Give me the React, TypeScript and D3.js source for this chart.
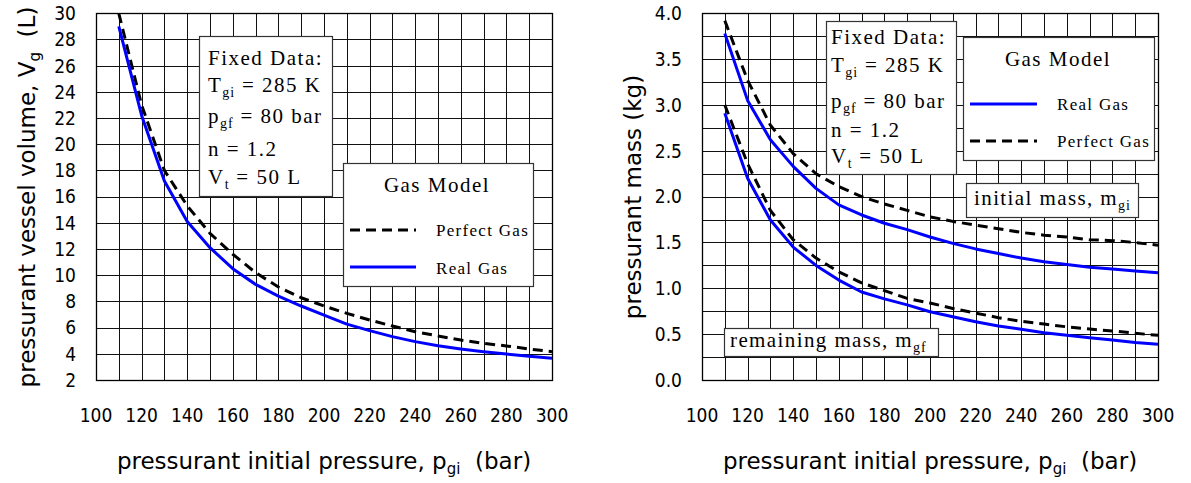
import React from "react";
import * as d3 from "d3";

// ---------- data ----------
const pressure = [110, 120, 130, 140, 150, 160, 170, 180, 190, 200, 210, 220, 230, 240, 250, 260, 270, 280, 290, 300];
const volumeReal = [29.0, 22.2, 17.2, 14.1, 12.1, 10.5, 9.3, 8.4, 7.65, 6.96, 6.27, 5.77, 5.31, 4.93, 4.62, 4.37, 4.16, 3.98, 3.81, 3.66];
const volumePerfect = [30.0, 23.0, 18.0, 15.3, 13.2, 11.6, 10.2, 9.1, 8.28, 7.65, 7.09, 6.58, 6.12, 5.69, 5.36, 5.05, 4.8, 4.6, 4.37, 4.16];
const massInitialReal = [3.78, 3.05, 2.62, 2.33, 2.09, 1.91, 1.8, 1.71, 1.64, 1.56, 1.49, 1.43, 1.38, 1.33, 1.29, 1.26, 1.23, 1.21, 1.19, 1.17];
const massInitialPerfect = [3.92, 3.27, 2.78, 2.47, 2.25, 2.11, 2.0, 1.92, 1.85, 1.78, 1.73, 1.69, 1.65, 1.61, 1.58, 1.56, 1.53, 1.52, 1.5, 1.47];
const massFinalReal = [2.91, 2.2, 1.745, 1.45, 1.25, 1.09, 0.96, 0.885, 0.82, 0.745, 0.69, 0.636, 0.59, 0.553, 0.516, 0.487, 0.462, 0.436, 0.41, 0.39];
const massFinalPerfect = [3.0, 2.36, 1.85, 1.53, 1.33, 1.18, 1.06, 0.975, 0.89, 0.84, 0.78, 0.73, 0.68, 0.64, 0.61, 0.58, 0.556, 0.535, 0.51, 0.487];

const xTicks = [100, 120, 140, 160, 180, 200, 220, 240, 260, 280, 300];
const xGrid = [100, 110, 120, 130, 140, 150, 160, 170, 180, 190, 200, 210, 220, 230, 240, 250, 260, 270, 280, 290, 300];
const volTicks = [2, 4, 6, 8, 10, 12, 14, 16, 18, 20, 22, 24, 26, 28, 30];
const massTicks = [0, 0.5, 1.0, 1.5, 2.0, 2.5, 3.0, 3.5, 4.0];
const massGrid = [0, 0.25, 0.5, 0.75, 1.0, 1.25, 1.5, 1.75, 2.0, 2.25, 2.5, 2.75, 3.0, 3.25, 3.5, 3.75, 4.0];

const BLUE = "#0000ff";
const DASH = "10,6";
const TICK_FONT = "'DejaVu Sans Condensed', 'DejaVu Sans', sans-serif";
const TITLE_FONT = "'DejaVu Sans', Verdana, sans-serif";
const SERIF = "'Liberation Serif', 'Times New Roman', serif";

const crisp = (v: number) => Math.round(v) + 0.5;

type Panel = {
  x: d3.ScaleLinear<number, number>;
  y: d3.ScaleLinear<number, number>;
};

function Grid({ x, y, yGrid }: Panel & { yGrid: number[] }) {
  const [x0, x1] = x.range();
  const [y0, y1] = y.range();
  return (
    <g>
      <rect x={x0} y={y1} width={x1 - x0} height={y0 - y1} fill="#fff" />
      {xGrid.map((v) => (
        <line key={"vx" + v} x1={crisp(x(v))} x2={crisp(x(v))} y1={y1} y2={y0} stroke="#111" strokeWidth={1} />
      ))}
      {yGrid.map((v) => (
        <line key={"hy" + v} x1={x0} x2={x1} y1={crisp(y(v))} y2={crisp(y(v))} stroke="#111" strokeWidth={1} />
      ))}
      <rect x={crisp(x0)} y={crisp(y1)} width={Math.round(x1 - x0)} height={Math.round(y0 - y1)} fill="none" stroke="#000" strokeWidth={1.3} />
    </g>
  );
}

function Curve({ x, y, values, dashed }: Panel & { values: number[]; dashed?: boolean }) {
  const line = d3
    .line<number>()
    .x((_, i) => x(pressure[i]))
    .y((d) => y(d));
  return (
    <path
      d={line(values) || ""}
      fill="none"
      stroke={dashed ? "#000" : BLUE}
      strokeWidth={3}
      strokeDasharray={dashed ? DASH : undefined}
      strokeLinejoin="round"
    />
  );
}

function XTicks({ x }: Panel) {
  return (
    <g>
      {xTicks.map((v) => (
        <text key={v} x={x(v)} y={422} textAnchor="middle" fontFamily={TICK_FONT} fontSize={19} fill="#000">
          {v}
        </text>
      ))}
    </g>
  );
}

function YTicks({ y, ticks, right, fmt }: { y: d3.ScaleLinear<number, number>; ticks: number[]; right: number; fmt: (v: number) => string }) {
  return (
    <g>
      {ticks.map((v) => (
        <text key={v} x={right} y={y(v)} dy="0.36em" textAnchor="end" fontFamily={TICK_FONT} fontSize={19} fill="#000">
          {fmt(v)}
        </text>
      ))}
    </g>
  );
}

function FixedData({ bx, by, bw, bh, tx, lines }: { bx: number; by: number; bw: number; bh: number; tx: number; lines: number[] }) {
  const st = { fontFamily: SERIF, fontSize: 21, letterSpacing: "1.5px", fill: "#000" } as any;
  const sub = { fontSize: 14, letterSpacing: "1px" } as any;
  return (
    <g>
      <rect x={crisp(bx)} y={crisp(by)} width={bw} height={bh} fill="#fff" stroke="#333" strokeWidth={1.2} />
      <text x={tx} y={lines[0]} style={st}>Fixed Data:</text>
      <text x={tx} y={lines[1]} style={st}>
        T<tspan dy={5} style={sub}>gi</tspan>
        <tspan dy={-5}> = 285 K</tspan>
      </text>
      <text x={tx} y={lines[2]} style={st}>
        p<tspan dy={5} style={sub}>gf</tspan>
        <tspan dy={-5}> = 80 bar</tspan>
      </text>
      <text x={tx} y={lines[3]} style={st}>n = 1.2</text>
      <text x={tx} y={lines[4]} style={st}>
        V<tspan dy={5} style={sub}>t</tspan>
        <tspan dy={-5}> = 50 L</tspan>
      </text>
    </g>
  );
}

type LegendItem = { label: string; dashed: boolean; ly: number; ty: number };

function Legend({ bx, by, bw, bh, cx, ty, lx0, lx1, tx, items }: { bx: number; by: number; bw: number; bh: number; cx: number; ty: number; lx0: number; lx1: number; tx: number; items: LegendItem[] }) {
  return (
    <g>
      <rect x={crisp(bx)} y={crisp(by)} width={bw} height={bh} fill="#fff" stroke="#333" strokeWidth={1.2} />
      <text x={cx} y={ty} textAnchor="middle" fontFamily={SERIF} fontSize={21} style={{ letterSpacing: "1.5px" }}>
        Gas Model
      </text>
      {items.map((it) => (
        <g key={it.label}>
          <line x1={lx0} x2={lx1} y1={it.ly} y2={it.ly} stroke={it.dashed ? "#000" : BLUE} strokeWidth={3} strokeDasharray={it.dashed ? DASH : undefined} />
          <text x={tx} y={it.ty} fontFamily={SERIF} fontSize={17} style={{ letterSpacing: "1.3px" }}>
            {it.label}
          </text>
        </g>
      ))}
    </g>
  );
}

function Label({ bx, by, bw, bh, tx, ty, main, sub }: { bx: number; by: number; bw: number; bh: number; tx: number; ty: number; main: string; sub: string }) {
  return (
    <g>
      <rect x={crisp(bx)} y={crisp(by)} width={bw} height={bh} fill="#fff" stroke="#333" strokeWidth={1.2} />
      <text x={tx} y={ty} fontFamily={SERIF} fontSize={21} style={{ letterSpacing: "1.4px" }}>
        {main}
        <tspan dy={5} fontSize={14} style={{ letterSpacing: "1px" }}>{sub}</tspan>
      </text>
    </g>
  );
}

function XTitle({ cx }: { cx: number }) {
  return (
    <text x={cx} y={469} textAnchor="middle" fontFamily={TITLE_FONT} fontSize={23}>
      pressurant initial pressure, p<tspan dy={5} fontSize={15}>gi</tspan>
      <tspan dy={-5}>{"\u00a0\u00a0(bar)"}</tspan>
    </text>
  );
}

export default function App() {
  const xL = d3.scaleLinear().domain([100, 300]).range([96, 552]);
  const yL = d3.scaleLinear().domain([2, 30]).range([380, 13.3]);
  const xR = d3.scaleLinear().domain([100, 300]).range([702, 1158]);
  const yR = d3.scaleLinear().domain([0, 4]).range([380, 13.3]);

  return (
    <svg width={1191} height={483} style={{ position: "absolute", left: 0, top: 0, background: "#fff" }}>
      <rect width={1191} height={483} fill="#fff" />

      {/* ---------- left panel ---------- */}
      <Grid x={xL} y={yL} yGrid={volTicks} />
      <Curve x={xL} y={yL} values={volumePerfect} dashed />
      <Curve x={xL} y={yL} values={volumeReal} />
      <FixedData bx={199} by={35.7} bw={133} bh={160} tx={208} lines={[65, 92, 123, 156, 184]} />
      <Legend
        bx={343}
        by={163}
        bw={190}
        bh={123}
        cx={437}
        ty={192}
        lx0={350}
        lx1={416}
        tx={436}
        items={[
          { label: "Perfect Gas", dashed: true, ly: 230, ty: 236 },
          { label: "Real Gas", dashed: false, ly: 267, ty: 274 },
        ]}
      />
      <XTicks x={xL} y={yL} />
      <YTicks y={yL} ticks={volTicks} right={76} fmt={(v) => String(v)} />
      <XTitle cx={324} />
      <text transform="translate(35,197) rotate(-90)" textAnchor="middle" fontFamily={TITLE_FONT} fontSize={23}>
        pressurant vessel volume, V<tspan dy={5} fontSize={15}>g</tspan>
        <tspan dy={-5}>{"\u00a0\u00a0(L)"}</tspan>
      </text>

      {/* ---------- right panel ---------- */}
      <Grid x={xR} y={yR} yGrid={massGrid} />
      <Curve x={xR} y={yR} values={massInitialPerfect} dashed />
      <Curve x={xR} y={yR} values={massInitialReal} />
      <Curve x={xR} y={yR} values={massFinalPerfect} dashed />
      <Curve x={xR} y={yR} values={massFinalReal} />
      <FixedData bx={826} by={21} bw={130} bh={153} tx={831} lines={[44, 72, 108, 137, 163]} />
      <Legend
        bx={963}
        by={36.7}
        bw={191}
        bh={123}
        cx={1058}
        ty={66}
        lx0={970}
        lx1={1037}
        tx={1057}
        items={[
          { label: "Real Gas", dashed: false, ly: 104, ty: 110 },
          { label: "Perfect Gas", dashed: true, ly: 141, ty: 147 },
        ]}
      />
      <Label bx={966} by={183} bw={172} bh={34} tx={974} ty={205} main="initial mass, m" sub="gi" />
      <Label bx={724} by={328} bw={214} bh={28} tx={730} ty={347} main="remaining mass, m" sub="gf" />
      <XTicks x={xR} y={yR} />
      <YTicks y={yR} ticks={massTicks} right={682} fmt={(v) => v.toFixed(1)} />
      <XTitle cx={930} />
      <text transform="translate(641,197) rotate(-90)" textAnchor="middle" fontFamily={TITLE_FONT} fontSize={23}>
        pressurant mass (kg)
      </text>
    </svg>
  );
}
